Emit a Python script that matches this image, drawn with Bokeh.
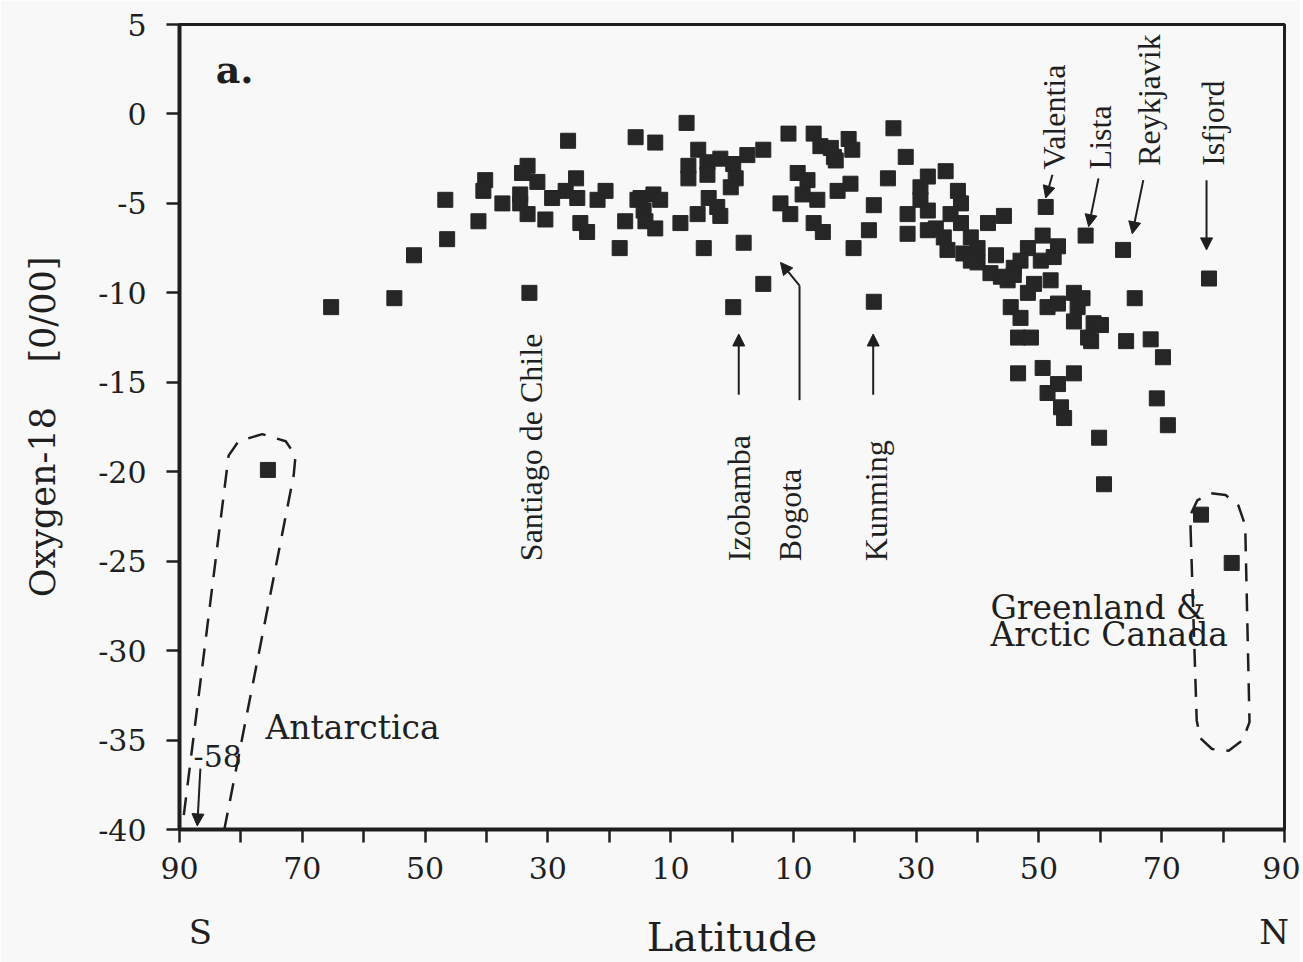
from bokeh.plotting import figure
from bokeh.models import FixedTicker, Label, Arrow, NormalHead, Range1d, ColumnDataSource, LinearAxis
from bokeh.embed import file_html
from bokeh.resources import INLINE

# ---------------- data: latitude (negative = south) and oxygen-18 (per mil)
latitude = [
    -65.3, -55.0, -51.8, -46.7, -46.4, -41.3, -40.2, -40.5, -37.4, -33.3,
    -34.2, -31.7, -34.5, -34.5, -33.3, -30.4, -33.0, -26.7, -25.4, -27.1,
    -29.3, -25.2, -21.9, -20.6, -24.7, -23.6, -18.3, -17.4, -15.4, -15.7,
    -75.6, -12.5, -7.4, -14.9, -12.8, -11.7, -14.4, -14.1, -12.5, -8.4,
    -5.5, -7.1, -7.1, -4.0, -1.9, 0.2, 2.5, 0.6, -0.2, -4.0,
    -3.8, -2.4, -1.9, -5.6, -4.6, 1.9, 5.1, 5.1, 0.2, 9.2,
    13.3, 14.4, 16.6, 10.7, 12.3, 11.5, 13.9, 7.9, 9.5, 13.3,
    14.8, 17.2, 19.0, 16.1, 16.9, 19.6, 26.3, 28.3, 25.4, 19.3,
    23.1, 28.6, 22.3, 28.6, 19.8, 23.1, 34.8, 31.9, 30.7, 30.7,
    31.9, 36.8, 37.3, 35.6, 37.3, 31.9, 34.5, 35.1, 37.7, 40.0,
    40.0, 41.7, 44.3, 42.1, 44.9, 45.9, 51.1, 57.6, 50.6, 48.2,
    53.1, 47.0, 50.3, 52.4, 45.9, 49.2, 51.9, 45.4, 47.0, 46.6,
    48.7, 48.2, 51.4, 53.1, 55.7, 56.3, 55.7, 58.0, 58.9, 46.6,
    50.6, 55.7, 53.1, 51.4, 53.6, 54.1, 63.7, 77.7, 65.6, 57.1,
    60.1, 58.5, 64.2, 68.2, 70.2, 69.2, 71.0, 59.8, 60.6, 76.4,
    81.4, 33.2, 38.9, 43.0, 43.8, 38.9,
]
oxygen18 = [
    -10.8, -10.3, -7.9, -4.8, -7.0, -6.0, -3.7, -4.3, -5.0, -2.9,
    -3.3, -3.8, -4.5, -5.0, -5.6, -5.9, -10.0, -1.5, -3.6, -4.3,
    -4.7, -4.7, -4.8, -4.3, -6.1, -6.6, -7.5, -6.0, -4.8, -1.3,
    -19.9, -1.6, -0.5, -4.7, -4.5, -4.8, -5.4, -6.0, -6.4, -6.1,
    -2.0, -2.9, -3.6, -2.7, -2.5, -2.8, -2.3, -3.6, -4.1, -3.4,
    -4.7, -5.2, -5.7, -5.6, -7.5, -7.2, -2.0, -9.5, -10.8, -1.1,
    -1.1, -1.8, -2.4, -3.3, -3.7, -4.5, -4.8, -5.0, -5.6, -6.1,
    -6.6, -4.3, -1.4, -1.9, -2.6, -2.0, -0.8, -2.4, -3.6, -3.9,
    -5.1, -5.6, -6.5, -6.7, -7.5, -10.5, -3.2, -3.5, -4.1, -4.8,
    -5.4, -4.3, -5.0, -5.6, -6.1, -6.5, -6.9, -7.6, -7.8, -7.5,
    -8.3, -6.1, -5.7, -8.9, -9.3, -8.6, -5.2, -6.8, -6.8, -7.5,
    -7.4, -8.2, -8.2, -8.0, -9.0, -9.5, -9.3, -10.8, -11.4, -12.5,
    -12.5, -10.0, -10.8, -10.6, -10.0, -10.8, -11.6, -12.5, -11.7, -14.5,
    -14.2, -14.5, -15.1, -15.6, -16.4, -17.0, -7.6, -9.2, -10.3, -10.3,
    -11.8, -12.7, -12.7, -12.6, -13.6, -15.9, -17.4, -18.1, -20.7, -22.4,
    -25.1, -6.4, -6.9, -7.9, -9.1, -8.2,
]

x_ticks = [-90, -70, -50, -30, -10, 10, 30, 50, 70, 90]
x_minor_ticks = [-80, -60, -40, -20, 0, 20, 40, 60, 80]
x_tick_labels = ["90", "70", "50", "30", "10", "10", "30", "50", "70", "90"]
y_ticks = [5, 0, -5, -10, -15, -20, -25, -30, -35, -40]
y_tick_labels = ["5", "0", "-5", "-10", "-15", "-20", "-25", "-30", "-35", "-40"]
hemisphere_ticks = [-86.6, 88.3]
hemisphere_labels = ["S", "N"]

# station names written vertically: (name, latitude, oxygen-18 at text start)
station_names = ["Santiago de Chile", "Izobamba", "Bogota", "Kunming",
                 "Valentia", "Lista", "Reykjavik", "Isfjord"]
station_lat = [-32.8, 1.1, 9.5, 23.4, 52.4, 60.0, 67.9, 78.3]
station_o18 = [-25.0, -25.0, -25.0, -25.0, -3.1, -3.1, -2.9, -2.9]

# arrows (start -> end) in data units
arrow_x0 = [1.1, 11.0, 23.0, 52.2, 59.7, 67.0, 77.3, -86.6]
arrow_y0 = [-15.7, -9.6, -15.7, -3.4, -3.6, -3.7, -3.7, -36.6]
arrow_x1 = [1.1, 7.9, 23.0, 51.1, 58.1, 65.2, 77.3, -87.1]
arrow_y1 = [-12.3, -8.3, -12.3, -4.7, -6.3, -6.7, -7.6, -39.8]
bogota_stem_x = [11.0, 11.0]
bogota_stem_y = [-16.0, -9.6]

# dashed outlines
antarctica_x = [-89.3, -82.0, -80.4, -76.5, -72.7, -71.1, -71.4, -82.7]
antarctica_y = [-39.2, -19.1, -18.3, -17.9, -18.3, -19.1, -20.2, -40.0]
greenland_x = [74.7, 75.7, 76.3, 78.2, 80.9, 83.2, 84.3, 83.6, 82.5, 80.4, 78.0, 75.8, 74.7, 74.7]
greenland_y = [-23.2, -33.9, -34.9, -35.5, -35.6, -35.0, -34.0, -23.0, -21.9, -21.3, -21.2, -21.6, -22.4, -23.2]

INK = "#1f1f1f"
PAPER = "#f8f8f8"
SERIF = "DejaVu Serif"
TIMES = "Liberation Serif"
NBSP = "\u00a0"

p = figure(width=1300, height=962, x_range=Range1d(-90, 90), y_range=Range1d(-40, 5),
           output_backend="svg", toolbar_location=None,
           min_border_left=179, min_border_right=16, min_border_top=24, min_border_bottom=133)
p.background_fill_color = PAPER
p.border_fill_color = PAPER
p.outline_line_color = INK
p.outline_line_width = 3
p.xgrid.visible = False
p.ygrid.visible = False

# axes
p.xaxis.ticker = FixedTicker(ticks=x_ticks, minor_ticks=x_minor_ticks)
p.xaxis.major_label_overrides = {t: s for t, s in zip(x_ticks, x_tick_labels)}
p.yaxis.ticker = FixedTicker(ticks=y_ticks)
p.yaxis.major_label_overrides = {t: s for t, s in zip(y_ticks, y_tick_labels)}
for ax in (p.xaxis[0], p.yaxis[0]):
    ax.axis_line_width = 4
    ax.axis_line_color = INK
    ax.major_tick_in = 0
    ax.major_tick_out = 13
    ax.major_tick_line_width = 2.5
    ax.major_tick_line_color = INK
    ax.minor_tick_in = 0
    ax.minor_tick_out = 13
    ax.minor_tick_line_width = 2.5
    ax.minor_tick_line_color = INK
    ax.major_label_text_font = SERIF
    ax.major_label_text_font_size = "30px"
    ax.major_label_text_color = INK
p.yaxis.minor_tick_out = 0
p.xaxis.major_label_standoff = 14
p.yaxis.major_label_standoff = 20

p.yaxis.axis_label = "Oxygen-18" + NBSP * 4 + "[0/00]"
p.yaxis.axis_label_text_font = SERIF
p.yaxis.axis_label_text_font_size = "35px"
p.yaxis.axis_label_text_font_style = "normal"
p.yaxis.axis_label_text_color = INK
p.yaxis.axis_label_standoff = 32

# second axis below: hemisphere letters and the "Latitude" title
hemi = LinearAxis(ticker=FixedTicker(ticks=hemisphere_ticks, minor_ticks=[]),
                  major_label_overrides={t: s for t, s in zip(hemisphere_ticks, hemisphere_labels)})
hemi.axis_line_color = None
hemi.major_tick_line_color = None
hemi.minor_tick_line_color = None
hemi.major_tick_out = 0
hemi.major_tick_in = 0
hemi.minor_tick_out = 0
hemi.minor_tick_in = 0
hemi.major_label_standoff = 30
hemi.major_label_text_font = SERIF
hemi.major_label_text_font_size = "34px"
hemi.major_label_text_color = INK
hemi.axis_label = "Latitude"
hemi.axis_label_text_font = SERIF
hemi.axis_label_text_font_size = "40px"
hemi.axis_label_text_font_style = "normal"
hemi.axis_label_text_color = INK
hemi.axis_label_standoff = -41
p.add_layout(hemi, "below")

# data
src = ColumnDataSource(dict(lat=latitude, o18=oxygen18))
p.scatter("lat", "o18", source=src, marker="square", size=15,
          fill_color="#262626", line_color="#262626")

# dashed outlines
p.line(antarctica_x, antarctica_y, line_dash="18 12", line_width=2.5, line_color=INK)
p.line(greenland_x, greenland_y, line_dash="18 12", line_width=2.5, line_color=INK)

# arrows
p.line(bogota_stem_x, bogota_stem_y, line_width=2, line_color=INK)
for xa, ya, xb, yb in zip(arrow_x0, arrow_y0, arrow_x1, arrow_y1):
    p.add_layout(Arrow(end=NormalHead(size=12, fill_color=INK, line_color=INK),
                       x_start=xa, y_start=ya, x_end=xb, y_end=yb,
                       line_width=2, line_color=INK))

# vertical station names
for name, lx, ly in zip(station_names, station_lat, station_o18):
    p.add_layout(Label(x=lx, y=ly, text=name, angle=90, angle_units="deg",
                       text_align="left", text_baseline="middle",
                       text_font=TIMES, text_font_size="32px", text_color=INK))

# other annotations
def txt(x, y, s, size="33px", style="normal", font=SERIF, **kw):
    p.add_layout(Label(x=x, y=y, text=s, text_font=font, text_font_size=size,
                       text_font_style=style, text_color=INK, **kw))

txt(-84.1, 2.5, "a.", size="38px", style="bold", text_baseline="alphabetic")
txt(-76.0, -34.3, "Antarctica", text_baseline="alphabetic")
txt(-87.7, -35.9, "-58", size="30px", text_baseline="alphabetic")
txt(42.1, -27.6, "Greenland &", text_baseline="alphabetic")
txt(42.1, -29.1, "Arctic Canada", text_baseline="alphabetic")

open("out.html", "w").write(file_html(p, INLINE))
